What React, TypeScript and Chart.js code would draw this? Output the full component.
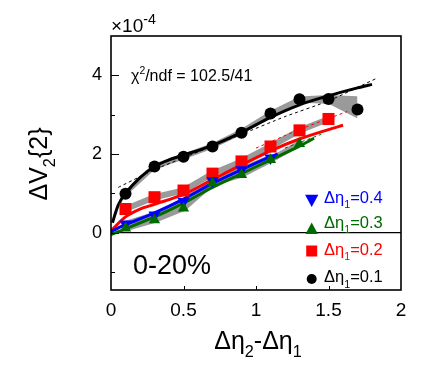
import { useEffect, useRef } from 'react';
import { Chart, registerables } from 'chart.js';
Chart.register(...registerables);

// ---- data (units of 1e-4) ----
const xTicks = [0, 0.5, 1, 1.5, 2];
const yTicks = [0, 2, 4];
const yMinorTicks = [-1, 1, 3];

const x01 = [0.1, 0.3, 0.5, 0.7, 0.9, 1.1, 1.3, 1.5, 1.7];
const v01 = [0.99, 1.68, 1.93, 2.19, 2.54, 3.03, 3.39, 3.4, 3.13];
const band01Hi = [1.08, 1.76, 2.01, 2.28, 2.64, 3.1, 3.46, 3.5, 3.47];
const band01Lo = [0.92, 1.6, 1.86, 2.13, 2.48, 2.95, 3.3, 3.28, 2.9];

const x02 = [0.1, 0.3, 0.5, 0.7, 0.9, 1.1, 1.3, 1.5];
const v02 = [0.6, 0.9, 1.07, 1.5, 1.81, 2.19, 2.6, 2.89];

const x03 = [0.1, 0.3, 0.5, 0.7, 0.9, 1.1, 1.3];
const v03 = [0.11, 0.32, 0.62, 1.26, 1.47, 1.85, 2.26];

const x04 = [0.1, 0.3, 0.5, 0.7, 0.9, 1.1];
const v04 = [0.22, 0.45, 0.79, 1.32, 1.6, 1.9];

const fitX01 = [0.01, 0.05, 0.1, 0.2, 0.3, 0.4, 0.5, 0.7, 0.9, 1.1, 1.3, 1.5, 1.7, 1.8];
const fitY01 = [0.25, 0.7, 1.0, 1.4, 1.68, 1.85, 1.97, 2.22, 2.55, 2.93, 3.25, 3.48, 3.68, 3.77];
const dashX01 = [0.05, 0.3, 0.6, 0.9, 1.2, 1.5, 1.83];
const dashY01 = [1.15, 1.6, 2.05, 2.5, 2.95, 3.35, 3.92];

const fitX02 = [0.0, 0.1, 0.2, 0.3, 0.5, 0.7, 0.9, 1.1, 1.3, 1.5, 1.6];
const fitY02 = [0.05, 0.4, 0.6, 0.72, 0.97, 1.35, 1.72, 2.08, 2.38, 2.62, 2.73];
const dashX02 = [1.0, 1.3, 1.63];
const dashY02 = [2.15, 2.62, 3.08];

const fitX03 = [0.0, 0.3, 0.5, 0.7, 0.9, 1.1, 1.3, 1.4];
const fitY03 = [-0.05, 0.4, 0.75, 1.15, 1.5, 1.85, 2.2, 2.4];
const dashX03 = [1.2, 1.45];
const dashY03 = [2.15, 2.5];

const fitX04 = [0.0, 0.1, 0.3, 0.5, 0.7, 0.9, 1.1, 1.15];
const fitY04 = [0.03, 0.2, 0.5, 0.85, 1.25, 1.6, 1.93, 2.0];

const legendLabels = ['0.4', '0.3', '0.2', '0.1'];

const BLUE = '#0000ff';
const GREEN = '#006a00';
const RED = '#ff0000';
const BLACK = '#000000';
const GRAY = '#9a9a9a';
const FONT = '"Liberation Sans", Arial, Helvetica, sans-serif';

const pts = (xs: number[], ys: number[]) => xs.map((x, i) => ({ x, y: ys[i] }));

type Part = { t: string; sub?: boolean; sup?: boolean };
function drawRich(ctx: CanvasRenderingContext2D, parts: Part[], x: number, y: number, size: number, color: string, align: 'left' | 'center' = 'left', scriptScale = 0.65) {
  let total = 0;
  const items = parts.map((p) => {
    const s = p.sub || p.sup ? size * scriptScale : size;
    ctx.font = `${s}px ${FONT}`;
    const w = ctx.measureText(p.t).width;
    total += w;
    return { ...p, s, w };
  });
  let cx = align === 'center' ? x - total / 2 : x;
  ctx.fillStyle = color;
  ctx.textBaseline = 'alphabetic';
  ctx.textAlign = 'left';
  for (const it of items) {
    ctx.font = `${it.s}px ${FONT}`;
    const dy = it.sub ? size * 0.32 : it.sup ? -size * 0.42 : 0;
    ctx.fillText(it.t, cx, y + dy);
    cx += it.w;
  }
}

function drawMarker(ctx: CanvasRenderingContext2D, kind: string, x: number, y: number, r: number, color: string) {
  ctx.fillStyle = color;
  ctx.beginPath();
  if (kind === 'circle') {
    ctx.arc(x, y, r, 0, Math.PI * 2);
  } else if (kind === 'rect') {
    ctx.rect(x - r, y - r, 2 * r, 2 * r);
  } else if (kind === 'up') {
    ctx.moveTo(x, y - r);
    ctx.lineTo(x + r * 0.95, y + r * 0.75);
    ctx.lineTo(x - r * 0.95, y + r * 0.75);
  } else if (kind === 'down') {
    ctx.moveTo(x, y + r);
    ctx.lineTo(x + r * 0.95, y - r * 0.75);
    ctx.lineTo(x - r * 0.95, y - r * 0.75);
  }
  ctx.closePath();
  ctx.fill();
}

const decorPlugin = {
  id: 'decor',
  beforeDatasetsDraw(chart: any) {
    const { ctx, chartArea: a, scales } = chart;
    const y0 = scales.y.getPixelForValue(0);
    ctx.save();
    ctx.strokeStyle = '#000';
    ctx.lineWidth = 1.2;
    ctx.beginPath();
    ctx.moveTo(a.left, y0);
    ctx.lineTo(a.right, y0);
    ctx.stroke();
    ctx.restore();
  },
  afterDraw(chart: any) {
    const { ctx, chartArea: a, scales } = chart;
    const xs = scales.x;
    const ys = scales.y;
    ctx.save();
    // frame
    ctx.strokeStyle = '#000';
    ctx.lineWidth = 1.6;
    ctx.strokeRect(a.left, a.top, a.right - a.left, a.bottom - a.top);
    // ticks
    ctx.lineWidth = 1;
    ctx.beginPath();
    for (const v of yTicks) {
      const py = Math.round(ys.getPixelForValue(v)) + 0.5;
      ctx.moveTo(a.left, py);
      ctx.lineTo(a.left + 8, py);
    }
    for (const v of yMinorTicks) {
      const py = Math.round(ys.getPixelForValue(v)) + 0.5;
      ctx.moveTo(a.left, py);
      ctx.lineTo(a.left + 4, py);
    }
    for (const v of xTicks.slice(1, -1)) {
      const px = Math.round(xs.getPixelForValue(v)) + 0.5;
      ctx.moveTo(px, a.bottom);
      ctx.lineTo(px, a.bottom - 4);
    }
    ctx.stroke();

    // exponent
    drawRich(ctx, [{ t: '\u00d710' }, { t: '-4', sup: true }], a.left, 32, 19, '#000', 'left', 0.75);
    // chi2
    drawRich(ctx, [{ t: '\u03c7' }, { t: '2', sup: true }, { t: '/ndf = 102.5/41' }], 131, 81, 16, '#000');
    // centrality
    drawRich(ctx, [{ t: '0-20%' }], 133, 274, 27, '#000');

    // legend
    const rows = [
      { kind: 'down', color: BLUE, label: legendLabels[0], my: 200, by: 202.7, r: 7 },
      { kind: 'up', color: GREEN, label: legendLabels[1], my: 229, by: 227.7, r: 6.5 },
      { kind: 'rect', color: RED, label: legendLabels[2], my: 251, by: 255, r: 5.5 },
      { kind: 'circle', color: BLACK, label: legendLabels[3], my: 279, by: 282.3, r: 5 },
    ];
    for (const r of rows) {
      drawMarker(ctx, r.kind, 311.7, r.my, r.r, r.color);
      drawRich(ctx, [{ t: '\u0394\u03b7' }, { t: '1', sub: true }, { t: '=' + r.label }], 324, r.by, 16.5, r.color);
    }

    // axis titles
    drawRich(ctx, [{ t: '\u0394\u03b7' }, { t: '2', sub: true }, { t: '-\u0394\u03b7' }, { t: '1', sub: true }], 258, 349, 25, '#000', 'center');
    ctx.save();
    ctx.translate(47, 164);
    ctx.rotate(-Math.PI / 2);
    drawRich(ctx, [{ t: '\u0394V' }, { t: '2', sub: true }, { t: '{2}' }], 0, 0, 25, '#000', 'center');
    ctx.restore();
    ctx.restore();
  },
};

export default function App() {
  const ref = useRef<HTMLCanvasElement | null>(null);
  useEffect(() => {
    if (!ref.current) return;
    const line = (data: any, color: string, width: number, order: number, extra: any = {}) => ({
      type: 'line',
      data,
      borderColor: color,
      backgroundColor: color,
      borderWidth: width,
      pointRadius: 0,
      tension: 0.3,
      fill: false,
      order,
      ...extra,
    });
    const markers = (data: any, color: string, style: string, r: number, rot = 0) => ({
      type: 'line',
      data,
      showLine: false,
      pointStyle: style,
      pointRadius: r,
      pointRotation: rot,
      pointBackgroundColor: color,
      pointBorderColor: color,
      pointBorderWidth: 0,
      borderColor: color,
      backgroundColor: color,
      order: 0,
    });
    const chart = new Chart(ref.current, {
      type: 'line',
      data: {
        datasets: [
          // 0,1: black band (fill between)
          line(pts(x01, band01Hi), 'rgba(0,0,0,0)', 0, 5, { tension: 0 }),
          line(pts(x01, band01Lo), 'rgba(0,0,0,0)', 0, 5, { tension: 0, fill: { target: 0 }, backgroundColor: GRAY }),
          // gray bands others
          line(pts(x02, v02), GRAY, 6, 4, { tension: 0 }),
          line(pts(x03, v03), GRAY, 6, 4, { tension: 0 }),
          line(pts(x04, v04), GRAY, 6, 4, { tension: 0 }),
          // dashed
          line(pts(dashX01, dashY01), BLACK, 1, 2, { borderDash: [3, 3], tension: 0.2 }),
          line(pts(dashX02, dashY02), RED, 1, 2, { borderDash: [3, 3] }),
          line(pts(dashX03, dashY03), GREEN, 1, 2, { borderDash: [3, 3] }),
          // fits
          line(pts(fitX03, fitY03), GREEN, 3, 1),
          line(pts(fitX04, fitY04), BLUE, 3, 1),
          line(pts(fitX02, fitY02), RED, 3, 1),
          line(pts(fitX01, fitY01), BLACK, 3, 1),
          // markers
          markers(pts(x03, v03), GREEN, 'triangle', 6.5),
          markers(pts(x04, v04), BLUE, 'triangle', 7, 180),
          markers(pts(x02, v02), RED, 'rect', 8.5),
          markers(pts(x01, v01), BLACK, 'circle', 6),
        ] as any,
      },
      options: {
        animation: false,
        responsive: false,
        maintainAspectRatio: false,
        layout: { padding: { left: 0, right: 45, top: 36, bottom: 0 } },
        plugins: { legend: { display: false }, tooltip: { enabled: false } },
        scales: {
          x: {
            type: 'linear',
            min: 0,
            max: 2,
            grid: { display: false, drawTicks: false },
            border: { display: false },
            afterBuildTicks: (s: any) => { s.ticks = xTicks.map((v) => ({ value: v })); },
            afterFit: (s: any) => { s.height = 84; },
            ticks: {
              padding: 9,
              color: '#000',
              font: { family: 'Liberation Sans', size: 19 },
              maxRotation: 0,
              callback: (v: any) => String(v),
            },
          },
          y: {
            type: 'linear',
            min: -1.46,
            max: 5,
            grid: { display: false, drawTicks: false },
            border: { display: false },
            afterBuildTicks: (s: any) => { s.ticks = yTicks.map((v) => ({ value: v })); },
            afterFit: (s: any) => { s.width = 111; },
            ticks: {
              padding: 9,
              color: '#000',
              font: { family: 'Liberation Sans', size: 18 },
              callback: (v: any) => String(v),
            },
          },
        },
      },
      plugins: [decorPlugin],
    } as any);
    return () => chart.destroy();
  }, []);
  return (
    <div style={{ position: 'absolute', left: 0, top: 0, width: 446, height: 374, background: '#fff' }}>
      <canvas ref={ref} width={446} height={374} style={{ width: 446, height: 374 }} />
    </div>
  );
}
